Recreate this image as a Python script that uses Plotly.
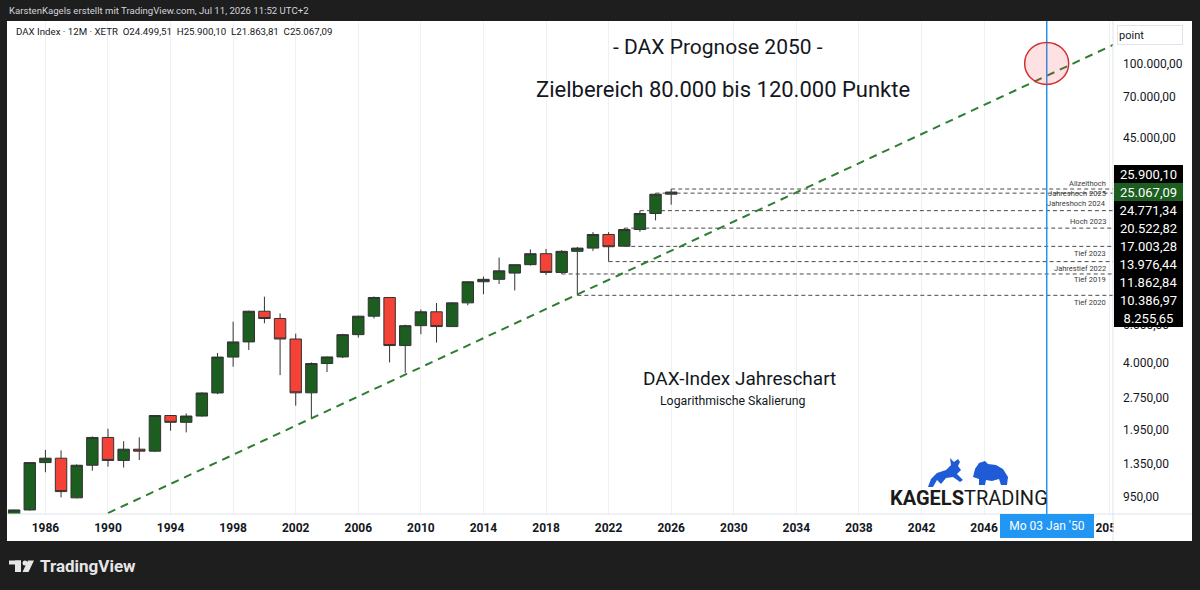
import math
import plotly.graph_objects as go

# ---------------- data ----------------
years = list(range(1984, 2027))
opens = [774.0, 820.91, 1366.23, 1432.25, 935.0, 1327.87, 1790.37, 1398.23, 1577.98, 1545.05,
         2266.68, 2106.58, 2253.88, 2888.69, 4249.69, 5002.39, 6958.14, 6433.61, 5160.10, 2892.63,
         3965.16, 4256.08, 5408.26, 6596.92, 8067.32, 4810.20, 5957.43, 6914.19, 5898.35, 7612.39,
         9552.16, 9805.55, 10485.0, 11481.06, 12917.64, 10558.96, 13249.01, 13718.78, 15884.86, 14000.0,
         16751.64, 19909.14, 24499.51]
highs = [822.0, 1366.23, 1565.0, 1557.0, 1340.0, 1810.0, 1966.0, 1720.0, 1793.0, 2270.0,
         2271.0, 2318.0, 2909.0, 4438.0, 6217.0, 7000.0, 8136.0, 6795.0, 5467.0, 4014.0,
         4272.0, 5458.0, 6630.0, 8152.0, 8100.0, 6026.0, 7087.0, 7600.0, 7672.0, 9620.0,
         10093.0, 12391.0, 11482.0, 13526.0, 13596.0, 13425.0, 13903.0, 16290.0, 16285.0, 17003.28,
         20522.82, 24771.34, 25900.10]
lows = [760.0, 815.0, 1231.0, 940.0, 930.0, 1252.0, 1307.0, 1295.0, 1405.0, 1530.0,
        1925.0, 1890.0, 2240.0, 2848.0, 3833.0, 4585.0, 6111.0, 3500.0, 2519.0, 2188.0,
        3618.0, 4201.0, 5243.0, 6437.0, 4014.0, 3588.0, 5434.0, 4966.0, 5870.0, 7419.0,
        8355.0, 9325.0, 8699.0, 11370.0, 10279.0, 10386.97, 8255.65, 13311.0, 11862.84, 13976.44,
        16345.0, 18489.0, 21863.81]
closes = [820.91, 1366.23, 1432.25, 1000.00, 1327.87, 1790.37, 1398.23, 1577.98, 1545.05, 2266.68,
          2106.58, 2253.88, 2888.69, 4249.69, 5002.39, 6958.14, 6433.61, 5160.10, 2892.63, 3965.16,
          4256.08, 5408.26, 6596.92, 8067.32, 4810.20, 5957.43, 6914.19, 5898.35, 7612.39, 9552.16,
          9805.55, 10743.01, 11481.06, 12917.64, 10558.96, 13249.01, 13718.78, 15884.86, 13923.59, 16751.64,
          19909.14, 24490.41, 25067.09]

level_values = [25900.10, 24771.34, 20522.82, 17003.28, 13976.44, 11862.84, 10386.97, 8255.65]
level_names = ["Allzeithoch", "Jahreshoch 2025", "Jahreshoch 2024", "Hoch 2023",
               "Tief 2023", "Jahrestief 2022", "Tief 2019", "Tief 2020"]
level_start_years = [2026, 2025, 2024, 2023, 2023, 2022, 2019, 2020]
level_label_shift = [6, 0, 7, 7, -7, -7, -6, -7]   # label offset in px (style)
current_price = 25067.09

trend_years = [1990, 2056]
trend_values = [794, 140000]

target_year = 2050
target_value = 100000

y_tickvals = [950, 1350, 1950, 2750, 4000, 6000, 45000, 70000, 100000]
x_tickvals = list(range(1986, 2055, 4))

# ---------------- styling ----------------
DARK = "#1e1e1e"
GREEN = "#1b5e20"
RED = "#f44336"
OUTLINE = "#333333"
TXT = "#131722"
FONT = "Roboto"

X_RANGE = [1983.545, 2054.24]
Y_LOG_RANGE = [2.8954, 5.198]
PLOT_W = 1106
PLOT_H = 493
L, R, T, B = 7, 87, 21, 76
CIRCLE_RX, CIRCLE_RY = 22, 21   # px


def de(v):
    s = f"{v:,.2f}"
    return s.replace(",", "X").replace(".", ",").replace("X", ".")


def px2paper(px, py):
    return (px - L) / float(PLOT_W), (590 - B - py) / float(PLOT_H)


fig = go.Figure()

for v, sy in zip(level_values, level_start_years):
    fig.add_trace(go.Scatter(x=[sy, 2056], y=[v, v], mode="lines",
                             line=dict(color="#4a4a4a", width=1, dash="4px,3px"),
                             hoverinfo="skip", showlegend=False))

fig.add_trace(go.Scatter(x=trend_years, y=trend_values, mode="lines",
                         line=dict(color="#2e7d32", width=2, dash="8px,6px"),
                         hoverinfo="skip", showlegend=False))

fig.add_trace(go.Candlestick(
    x=years, open=opens, high=highs, low=lows, close=closes,
    increasing=dict(fillcolor=GREEN, line=dict(color=OUTLINE, width=1)),
    decreasing=dict(fillcolor=RED, line=dict(color=OUTLINE, width=1)),
    whiskerwidth=0, showlegend=False, hoverinfo="skip"))

shapes = []
x_right_panel = (1192 - L) / float(PLOT_W)
y_bottom_panel = -(541 - (590 - B)) / float(PLOT_H)
shapes.append(dict(type="rect", xref="paper", yref="paper", x0=0, x1=x_right_panel,
                   y0=y_bottom_panel, y1=1, fillcolor="white", line=dict(width=0), layer="below"))
shapes.append(dict(type="rect", xref="paper", yref="paper", x0=1.0005, x1=x_right_panel,
                   y0=y_bottom_panel, y1=-0.001, fillcolor="white", line=dict(width=0), layer="above"))
shapes.append(dict(type="line", xref="paper", yref="paper", x0=1, x1=1, y0=y_bottom_panel, y1=1,
                   line=dict(color="#e0e3eb", width=1), layer="above"))
shapes.append(dict(type="line", xref="paper", yref="paper", x0=0, x1=x_right_panel, y0=0, y1=0,
                   line=dict(color="#e0e3eb", width=1), layer="above"))
shapes.append(dict(type="line", xref="x", yref="paper", x0=target_year + 0.005, x1=target_year + 0.005,
                   y0=0, y1=1, line=dict(color="#2196f3", width=1.5), layer="above"))
yr_per_px = (X_RANGE[1] - X_RANGE[0]) / PLOT_W
dec_per_px = (Y_LOG_RANGE[1] - Y_LOG_RANGE[0]) / PLOT_H
shapes.append(dict(type="circle", xref="x", yref="y",
                   x0=target_year - CIRCLE_RX * yr_per_px, x1=target_year + CIRCLE_RX * yr_per_px,
                   y0=target_value / 10 ** (CIRCLE_RY * dec_per_px),
                   y1=target_value * 10 ** (CIRCLE_RY * dec_per_px),
                   fillcolor="rgba(242,54,69,0.15)", line=dict(color="#d32f2f", width=1.5),
                   layer="above"))


def prect(x0, y0, x1, y1, color):
    a, b = px2paper(x0, y0)
    c, d = px2paper(x1, y1)
    return dict(type="rect", xref="paper", yref="paper", x0=a, x1=c, y0=d, y1=b,
                fillcolor=color, line=dict(width=0), layer="above")


def ppath(pts, color):
    s = ""
    for i, (x, y) in enumerate(pts):
        a, b = px2paper(x, y)
        s += ("M" if i == 0 else "L") + f"{a:.5f},{b:.5f} "
    return dict(type="path", xref="paper", yref="paper", path=s + "Z",
                fillcolor=color, line=dict(width=0), layer="above")


LOGO = "#e6e6e6"
shapes.append(prect(9, 560.5, 21, 564.5, LOGO))
shapes.append(prect(15, 560.5, 21, 572, LOGO))
cx0, cy0 = px2paper(22.5, 560.5)
cx1, cy1 = px2paper(27.5, 565.5)
shapes.append(dict(type="circle", xref="paper", yref="paper", x0=cx0, x1=cx1, y0=cy1, y1=cy0,
                   fillcolor=LOGO, line=dict(width=0), layer="above"))
shapes.append(ppath([(28, 560.5), (34, 560.5), (28.5, 572), (22.5, 572)], LOGO))

BLUE = "#1f5bd6"
shapes.append(ppath([(928, 487), (931, 479), (937, 473), (946, 470), (951, 465), (950, 458),
                     (954, 462), (958, 459), (960, 462), (958, 466), (961, 470), (957, 474),
                     (963, 480), (960, 482), (953, 477), (946, 478), (941, 484), (937, 480),
                     (933, 487)], BLUE))
shapes.append(ppath([(973, 477), (975, 469), (979, 463), (985, 461), (988, 464), (996, 465),
                     (1003, 469), (1008, 477), (1007, 485), (1001, 485), (999, 479), (992, 481),
                     (986, 480), (985, 485), (979, 485), (979, 479)], BLUE))

annotations = []

for v, name, sh in zip(level_values, level_names, level_label_shift):
    annotations.append(dict(xref="paper", x=1, xanchor="right", xshift=-5,
                            yref="y", y=math.log10(v), yanchor="middle", yshift=sh,
                            text=name, showarrow=False,
                            font=dict(size=7.5, color="#3a3a3a", family=FONT)))

gap = 18.0 / PLOT_H * (Y_LOG_RANGE[1] - Y_LOG_RANGE[0])
entries = sorted([(math.log10(v), v, "black") for v in level_values] +
                 [(math.log10(current_price), current_price, GREEN)], key=lambda e: -e[0])
ci = [i for i, e in enumerate(entries) if e[1] == current_price][0]
pos = {ci: entries[ci][0]}
for i in range(ci - 1, -1, -1):
    pos[i] = max(entries[i][0], pos[i + 1] + gap)
for i in range(ci + 1, len(entries)):
    pos[i] = min(entries[i][0], pos[i - 1] - gap)
for i, (lv, v, col) in enumerate(entries):
    annotations.append(dict(xref="paper", x=1, xanchor="left", xshift=1,
                            yref="y", y=pos[i], yanchor="middle",
                            text=de(v), showarrow=False, bgcolor=col, borderpad=1, borderwidth=0,
                            width=67, height=16, align="center",
                            font=dict(size=13, color="white", family=FONT)))

annotations.append(dict(xref="paper", x=1, xanchor="left", xshift=4, yref="paper", y=1,
                        yanchor="top", yshift=-4, text="point", showarrow=False,
                        width=62, height=16, align="left", bordercolor="#e0e3eb", borderwidth=1,
                        borderpad=1, font=dict(size=11, color=TXT, family=FONT)))

annotations.append(dict(xref="x", x=target_year, xanchor="center", yref="paper", y=0,
                        yanchor="top", text="Mo 03 Jan '50", showarrow=False, bgcolor="#2196f3",
                        width=90, height=20, borderpad=2, borderwidth=0,
                        font=dict(size=12, color="white", family=FONT)))


def ptext(px, py, text, size, color=TXT, anchor="center", family=FONT):
    a, b = px2paper(px, py)
    annotations.append(dict(xref="paper", yref="paper", x=a, y=b, xanchor=anchor,
                            yanchor="middle", text=text, showarrow=False,
                            font=dict(size=size, color=color, family=family)))


ptext(718, 47, "- DAX Prognose 2050 -", 21)
ptext(723, 89, "Zielbereich 80.000 bis 120.000 Punkte", 22)
ptext(739, 378, "DAX-Index Jahreschart", 19)
ptext(733, 401, "Logarithmische Skalierung", 12.3)
ptext(14, 31, "DAX Index · 12M · XETR  O24.499,51  H25.900,10  L21.863,81  C25.067,09", 9.7,
      anchor="left")
ptext(7, 11, "KarstenKagels erstellt mit TradingView.com, Jul 11, 2026 11:52 UTC+2", 9.6,
      color="#d1d4dc", anchor="left")
ptext(38, 566, "<b>TradingView</b>", 17, color="#e6e6e6", anchor="left")
ptext(969, 498, "<b>KAGELS</b>TRADING", 20, color="#1a1a1a",
      family="Liberation Sans Narrow, Roboto")

fig.update_layout(
    width=1200, height=590,
    margin=dict(l=L, r=R, t=T, b=B),
    paper_bgcolor=DARK, plot_bgcolor="white",
    font=dict(family=FONT, color=TXT),
    boxgap=0.27, boxgroupgap=0,
    shapes=shapes, annotations=annotations,
    showlegend=False,
    xaxis=dict(range=X_RANGE, tickvals=x_tickvals, ticktext=[str(y) for y in x_tickvals],
               showgrid=True, gridcolor="#eef0f3", gridwidth=1, zeroline=False,
               ticks="", showline=False, rangeslider=dict(visible=False), ticklabelstandoff=5,
               tickfont=dict(size=12, color=TXT, family=FONT, weight="bold")),
    yaxis=dict(type="log", range=Y_LOG_RANGE, side="right", tickvals=y_tickvals,
               ticktext=[de(v) for v in y_tickvals], showgrid=False, zeroline=False,
               ticks="", showline=False, ticklabelstandoff=9,
               tickfont=dict(size=12, color=TXT, family=FONT)),
)

fig.write_html("out.html")
